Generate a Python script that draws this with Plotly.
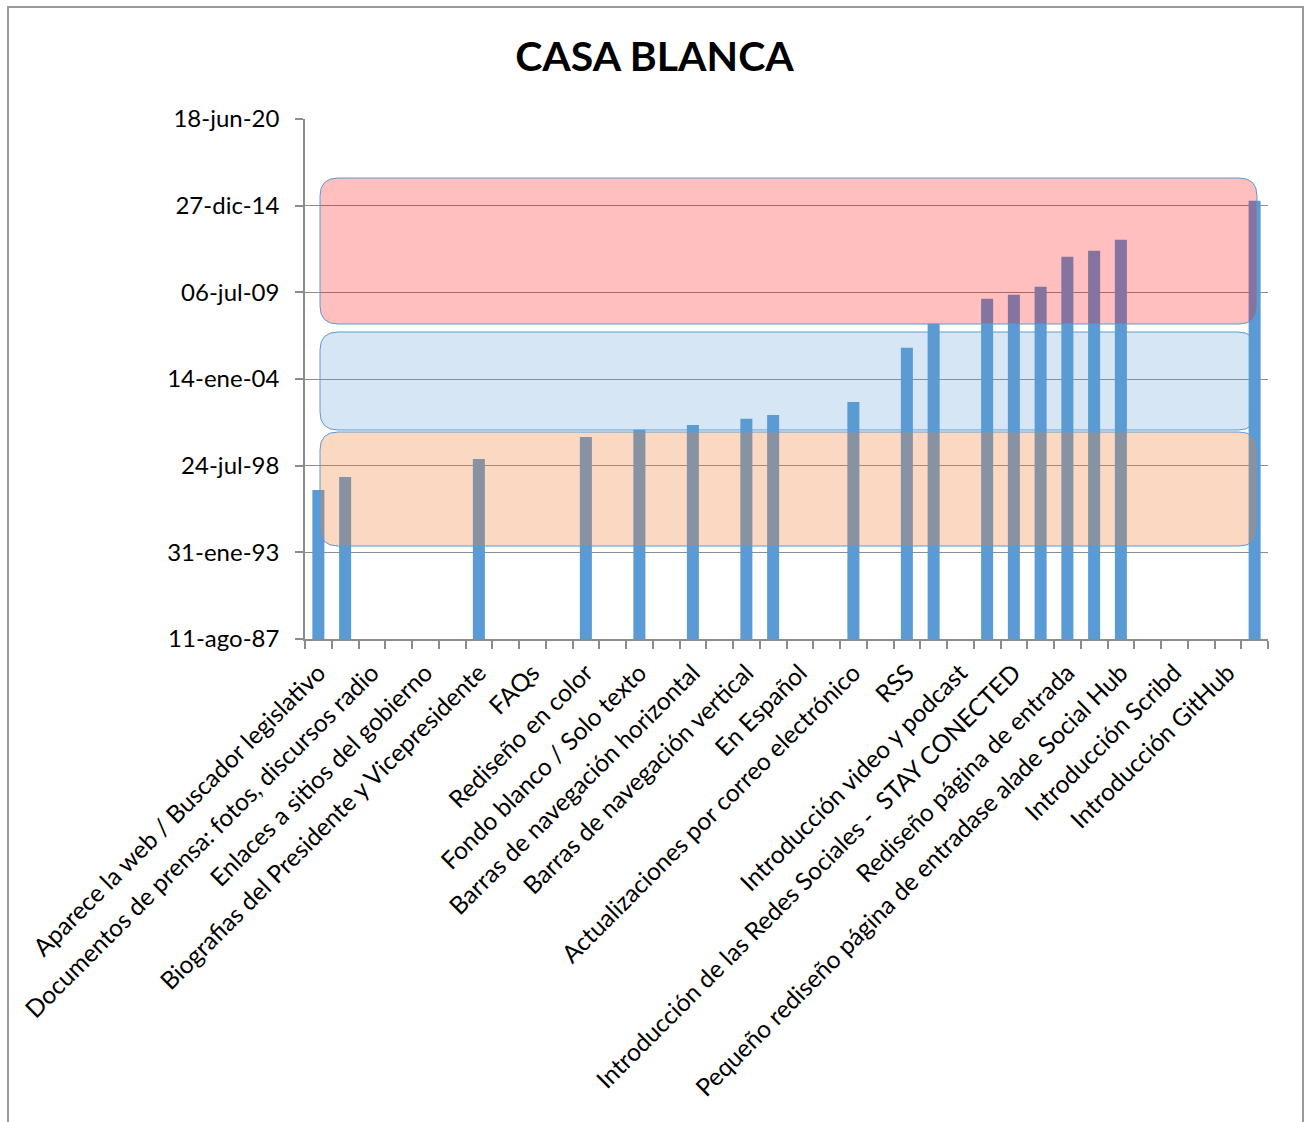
import plotly.graph_objects as go

# 36 category slots on the x axis, only the even ones carry a label
n_slots = 36
label_slots = list(range(0, 36, 2))
labels = [
    "Aparece la web / Buscador legislativo",
    "Documentos de prensa: fotos, discursos radio",
    "Enlaces a sitios del gobierno",
    "Biografias del Presidente y Vicepresidente",
    "FAQs",
    "Rediseño en color",
    "Fondo blanco / Solo texto",
    "Barras de navegación horizontal",
    "Barras de navegación vertical",
    "En Español",
    "Actualizaciones por correo electrónico",
    "RSS",
    "Introducción video y podcast",
    "Introducción de las Redes Sociales -  STAY CONECTED",
    "Rediseño página de entrada",
    "Pequeño rediseño página de entradase alade Social Hub",
    "Introducción Scribd",
    "Introducción GitHub",
]

# slot index of each bar and its date
bar_slots = [0, 1, 6, 10, 12, 14, 16, 17, 20, 22, 23, 25, 26, 27, 28, 29, 30, 35]
bar_dates = [
    "1997-01-10", "1997-11-07", "1998-12-27", "2000-05-18", "2000-10-27",
    "2001-02-19", "2001-07-08", "2001-10-08", "2002-08-04", "2006-01-02",
    "2007-07-10", "2009-02-07", "2009-05-10", "2009-11-11", "2011-10-04",
    "2012-02-20", "2012-10-31", "2015-04-19",
]

y_tickvals = ["1987-08-11", "1993-01-31", "1998-07-24", "2004-01-14",
              "2009-07-06", "2014-12-27", "2020-06-18"]
y_ticktext = ["11-ago-87", "31-ene-93", "24-jul-98", "14-ene-04",
              "06-jul-09", "27-dic-14", "18-jun-20"]

W, H = 1309, 1122
L, R, T, B = 305, 1268, 119, 639
grey = "#8c8c8c"
font = "Lato"


def px(x):
    return (x - L) / (R - L)


def py(y):
    return (B - y) / (B - T)


def rounded(x0, y0, x1, y1, r=18):
    a, b, c, d = px(x0), py(y1), px(x1), py(y0)
    rx, ry = r / (R - L), r / (B - T)
    return (f"M {a+rx},{b} L {c-rx},{b} Q {c},{b} {c},{b+ry} "
            f"L {c},{d-ry} Q {c},{d} {c-rx},{d} L {a+rx},{d} "
            f"Q {a},{d} {a},{d-ry} L {a},{b+ry} Q {a},{b} {a+rx},{b} Z")


fig = go.Figure()
fig.add_trace(go.Bar(x=bar_slots, y=bar_dates, width=0.45,
                     marker=dict(color="#5b9bd5", line=dict(width=0))))

bands = [
    (320, 178, 1257, 324, "rgba(255,0,0,0.25)"),
    (320, 332, 1256, 430, "rgba(91,155,213,0.25)"),
    (320, 432, 1257, 546, "rgba(237,125,49,0.3)"),
]
shapes = []
for x0, y0, x1, y1, col in bands:
    shapes.append(dict(type="path", xref="paper", yref="paper",
                       path=rounded(x0, y0, x1, y1), fillcolor=col,
                       line=dict(color="#5b9bd5", width=1)))
# chart border
shapes.append(dict(type="rect", xref="paper", yref="paper",
                   x0=px(8), x1=px(1303), y0=py(1135), y1=py(7),
                   line=dict(color="#9a9a9a", width=2), layer="below"))

fig.update_layout(
    width=W, height=H,
    margin=dict(l=L, r=W - R, t=T, b=H - B),
    paper_bgcolor="white", plot_bgcolor="white",
    showlegend=False,
    font=dict(family=font, size=24, color="black"),
    title=dict(text="<b>CASA BLANCA</b>", x=0.5, xanchor="center",
               y=1 - 57 / H, yanchor="middle", yref="container",
               font=dict(family=font, size=41, color="black")),
    shapes=shapes,
)
fig.update_xaxes(range=[-0.5, n_slots - 0.5], tickmode="array",
                 tickvals=label_slots, ticktext=labels, tickangle=-45,
                 ticks="", showgrid=False, zeroline=False,
                 showline=True, linecolor=grey, linewidth=1.5,
                 tickfont=dict(size=24.5), ticklabelstandoff=8,
                 minor=dict(tickmode="array",
                            tickvals=[i - 0.5 for i in range(n_slots + 1)],
                            ticks="outside", ticklen=8, tickcolor=grey,
                            tickwidth=1.5, showgrid=False))
fig.update_yaxes(type="date", range=[y_tickvals[0], y_tickvals[-1]],
                 tickmode="array", tickvals=y_tickvals, ticktext=y_ticktext,
                 ticks="outside", ticklen=8, tickcolor=grey, tickwidth=1.5,
                 showgrid=True, gridcolor=grey, gridwidth=1,
                 showline=True, linecolor=grey, linewidth=1.5,
                 zeroline=False, tickfont=dict(size=24), ticklabelstandoff=11)

fig.write_html("out.html", config={"displayModeBar": False},
               post_script="document.body.style.margin='0';")
